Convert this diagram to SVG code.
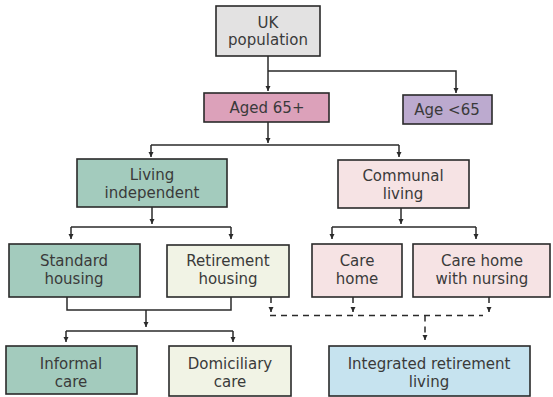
<svg xmlns="http://www.w3.org/2000/svg" width="553" height="397" viewBox="0 0 553 397">
<style>
.box{stroke:#2a2a2a;stroke-width:1.6}
.t{font-family:"DejaVu Sans","Liberation Sans",sans-serif;font-size:15px;fill:#3a3a3a;text-anchor:middle}
.c{fill:none;stroke:#2a2a2a;stroke-width:1.5}
.d{fill:none;stroke:#2a2a2a;stroke-width:1.5;stroke-dasharray:6 5}
.grey{fill:#e3e2e2}.pink{fill:#dca1ba}.purple{fill:#bcaacf}.green{fill:#a3cbbd}.rose{fill:#f6e3e4}.cream{fill:#f1f3e5}.blue{fill:#c6e3ef}
</style>
<defs>
<marker id="ah" viewBox="0 0 6 6" refX="6" refY="3" markerWidth="5.5" markerHeight="5.5" orient="auto" markerUnits="userSpaceOnUse"><path d="M0,0 L6,3 L0,6 z" fill="#2a2a2a"/></marker>
</defs>
<g id="connectors">
<path class="c" d="M268 56 V71"/>
<path class="c" d="M268 71 V91" marker-end="url(#ah)"/>
<path class="c" d="M268 71 H456 V93" marker-end="url(#ah)"/>
<path class="c" d="M268 122 V143" marker-end="url(#ah)"/>
<path class="c" d="M151 145 H399"/>
<path class="c" d="M151 145 V157" marker-end="url(#ah)"/>
<path class="c" d="M399 145 V157" marker-end="url(#ah)"/>
<path class="c" d="M152 207 V224" marker-end="url(#ah)"/>
<path class="c" d="M71 227 H231"/>
<path class="c" d="M71 227 V239" marker-end="url(#ah)"/>
<path class="c" d="M231 227 V239" marker-end="url(#ah)"/>
<path class="c" d="M401 208 V224" marker-end="url(#ah)"/>
<path class="c" d="M332 227 H476"/>
<path class="c" d="M332 227 V239" marker-end="url(#ah)"/>
<path class="c" d="M476 227 V239" marker-end="url(#ah)"/>
<path class="c" d="M67 297 V310 H231 V297"/>
<path class="c" d="M146 310 V327" marker-end="url(#ah)"/>
<path class="c" d="M66 331 H233"/>
<path class="c" d="M66 331 V342" marker-end="url(#ah)"/>
<path class="c" d="M233 331 V342" marker-end="url(#ah)"/>
<path class="d" d="M271 297 V312" marker-end="url(#ah)"/>
<path class="d" d="M353 297 V312" marker-end="url(#ah)"/>
<path class="d" d="M489 297 V312" marker-end="url(#ah)"/>
<path class="d" d="M270 315.5 H483"/>
<path class="d" d="M425 315.5 V340" marker-end="url(#ah)"/>
</g>
<g id="uk-population"><rect class="box grey" x="216" y="6" width="104" height="50"/><text class="t" x="268" y="27.5">UK</text><text class="t" x="268" y="45">population</text></g>
<g id="aged-65-plus"><rect class="box pink" x="204" y="93" width="125" height="29"/><text class="t" x="267" y="113">Aged 65+</text></g>
<g id="age-under-65"><rect class="box purple" x="403" y="95" width="89" height="29"/><text class="t" x="447" y="115">Age &lt;65</text></g>
<g id="living-independent"><rect class="box green" x="77" y="159" width="150" height="48"/><text class="t" x="152" y="180.25">Living</text><text class="t" x="152" y="197.75">independent</text></g>
<g id="communal-living"><rect class="box rose" x="338" y="160" width="131" height="48"/><text class="t" x="403" y="181.25">Communal</text><text class="t" x="403" y="198.75">living</text></g>
<g id="standard-housing"><rect class="box green" x="9" y="244" width="131" height="53"/><text class="t" x="74" y="266.25">Standard</text><text class="t" x="74" y="283.75">housing</text></g>
<g id="retirement-housing"><rect class="box cream" x="167" y="245" width="122" height="52"/><text class="t" x="228" y="266.25">Retirement</text><text class="t" x="228" y="283.75">housing</text></g>
<g id="care-home"><rect class="box rose" x="312" y="244" width="90" height="53"/><text class="t" x="357" y="266.25">Care</text><text class="t" x="357" y="283.75">home</text></g>
<g id="care-home-nursing"><rect class="box rose" x="413" y="244" width="137" height="53"/><text class="t" x="482" y="266.25">Care home</text><text class="t" x="482" y="283.75">with nursing</text></g>
<g id="informal-care"><rect class="box green" x="6" y="346" width="131" height="48"/><text class="t" x="71" y="369.25">Informal</text><text class="t" x="71" y="386.75">care</text></g>
<g id="domiciliary-care"><rect class="box cream" x="169" y="346" width="122" height="50"/><text class="t" x="230" y="369.25">Domiciliary</text><text class="t" x="230" y="386.75">care</text></g>
<g id="integrated-retirement-living"><rect class="box blue" x="329" y="346" width="201" height="50"/><text class="t" x="429" y="369.25">Integrated retirement</text><text class="t" x="429" y="386.75">living</text></g>
</svg>
